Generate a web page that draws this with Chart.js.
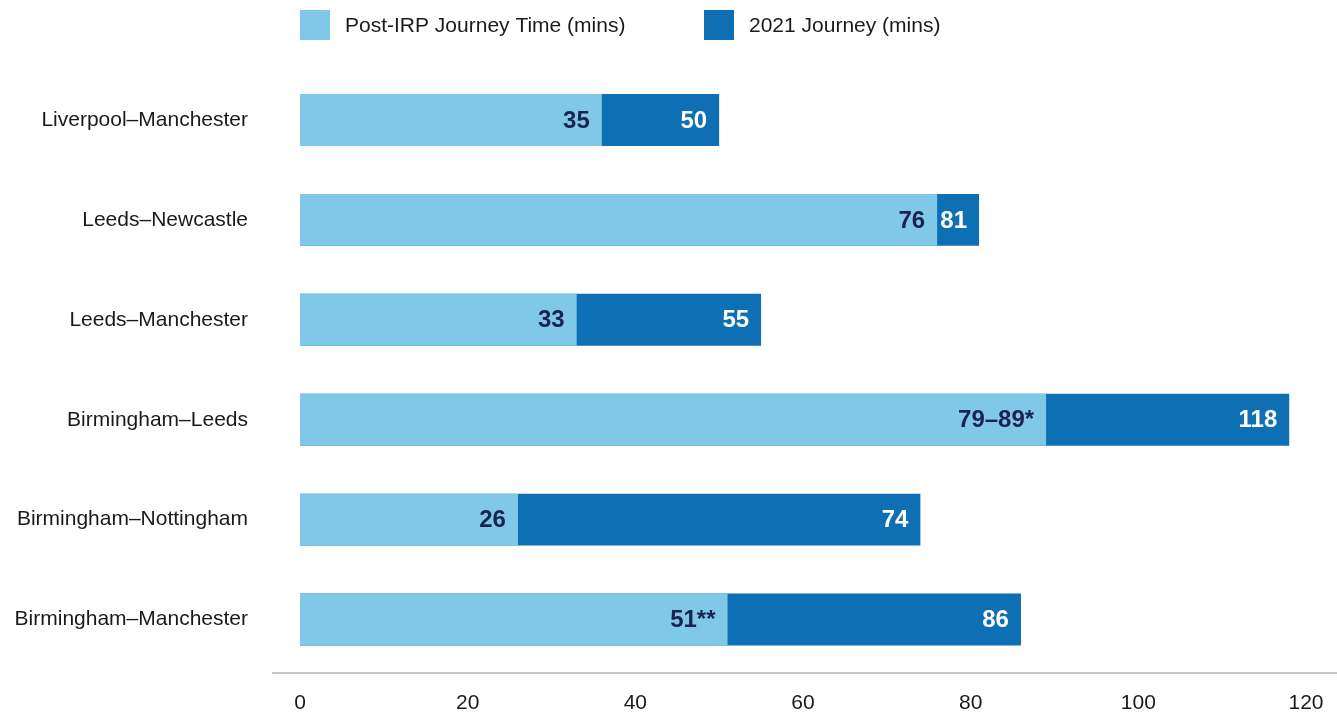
<!DOCTYPE html>
<html>
<head>
<meta charset="utf-8">
<script src="https://cdn.jsdelivr.net/npm/chart.js@4.4.1/dist/chart.umd.min.js"></script>
<style>
  html, body { margin: 0; padding: 0; background: #ffffff; }
  #wrap { width: 1337px; height: 719px; position: relative; }
</style>
</head>
<body>
<div id="wrap"><canvas id="c" width="1337" height="719"></canvas></div>
<script>
const categories = [
  "Liverpool–Manchester",
  "Leeds–Newcastle",
  "Leeds–Manchester",
  "Birmingham–Leeds",
  "Birmingham–Nottingham",
  "Birmingham–Manchester"
];
const postIrpValues = [36, 76, 33, 89, 26, 51];
const journey2021Values = [50, 81, 55, 118, 74, 86];
const postIrpLabels = ["35", "76", "33", "79–89*", "26", "51**"];
const journey2021Labels = ["50", "81", "55", "118", "74", "86"];
const xTicks = [0, 20, 40, 60, 80, 100, 120];
const seriesNames = ["Post-IRP Journey Time (mins)", "2021 Journey (mins)"];

const LIGHT = '#80C8E8';
const DARK = '#0E6FB4';
const FONT = '"Liberation Sans", Arial, Helvetica, sans-serif';

const customPlugin = {
  id: 'custom',
  afterDatasetsDraw(chart) {
    const ctx = chart.ctx;
    ctx.save();
    ctx.font = 'bold 24px ' + FONT;
    ctx.textAlign = 'right';
    ctx.textBaseline = 'middle';
    const texts = [postIrpLabels, journey2021Labels];
    const colors = ['#18234F', '#ffffff'];
    chart.data.datasets.forEach((ds, di) => {
      const meta = chart.getDatasetMeta(di);
      meta.data.forEach((bar, i) => {
        ctx.fillStyle = colors[di];
        ctx.fillText(texts[di][i], bar.x - 12, bar.y + 1);
      });
    });
    ctx.restore();
  },
  afterDraw(chart) {
    const ctx = chart.ctx;
    ctx.save();
    // bottom axis line
    ctx.strokeStyle = '#C8C8C8';
    ctx.lineWidth = 2;
    ctx.beginPath();
    ctx.moveTo(272, 673);
    ctx.lineTo(1337, 673);
    ctx.stroke();
    // legend
    const items = [
      { x: 300, color: chart.data.datasets[0].backgroundColor, text: chart.data.datasets[0].label },
      { x: 704, color: chart.data.datasets[1].backgroundColor, text: chart.data.datasets[1].label }
    ];
    ctx.font = '21px ' + FONT;
    ctx.textAlign = 'left';
    ctx.textBaseline = 'middle';
    items.forEach(it => {
      ctx.fillStyle = it.color;
      ctx.fillRect(it.x, 10, 30, 30);
      ctx.fillStyle = '#1a1a1a';
      ctx.fillText(it.text, it.x + 45, 26);
    });
    ctx.restore();
  }
};

new Chart(document.getElementById('c'), {
  type: 'bar',
  data: {
    labels: categories,
    datasets: [
      {
        label: seriesNames[0],
        data: postIrpValues,
        backgroundColor: LIGHT,
        grouped: false,
        barPercentage: 0.52,
        categoryPercentage: 1.0,
        order: 0
      },
      {
        label: seriesNames[1],
        data: journey2021Values,
        backgroundColor: DARK,
        grouped: false,
        barPercentage: 0.52,
        categoryPercentage: 1.0,
        order: 1
      }
    ]
  },
  options: {
    indexAxis: 'y',
    responsive: false,
    animation: false,
    layout: { padding: { top: 70, right: 31, bottom: 0, left: 0 } },
    plugins: {
      legend: { display: false },
      tooltip: { enabled: false }
    },
    scales: {
      x: {
        min: 0,
        max: 120,
        afterBuildTicks(scale) { scale.ticks = xTicks.map(v => ({ value: v })); },
        afterFit(scale) {
          scale.height = 49.5;
          scale.paddingLeft = 0; scale.paddingRight = 0;
          scale.paddingTop = 0; scale.paddingBottom = 0;
        },
        grid: { display: false, drawTicks: false },
        border: { display: false },
        ticks: {
          padding: 21,
          maxRotation: 0,
          color: '#1a1a1a',
          font: { family: FONT, size: 21 }
        }
      },
      y: {
        afterFit(scale) {
          scale.width = 300;
          scale.paddingLeft = 0; scale.paddingRight = 0;
          scale.paddingTop = 0; scale.paddingBottom = 0;
        },
        grid: { display: false, drawTicks: false },
        border: { display: false },
        ticks: {
          padding: 52,
          color: '#1a1a1a',
          font: { family: FONT, size: 21 }
        }
      }
    }
  },
  plugins: [customPlugin]
});
</script>
</body>
</html>
